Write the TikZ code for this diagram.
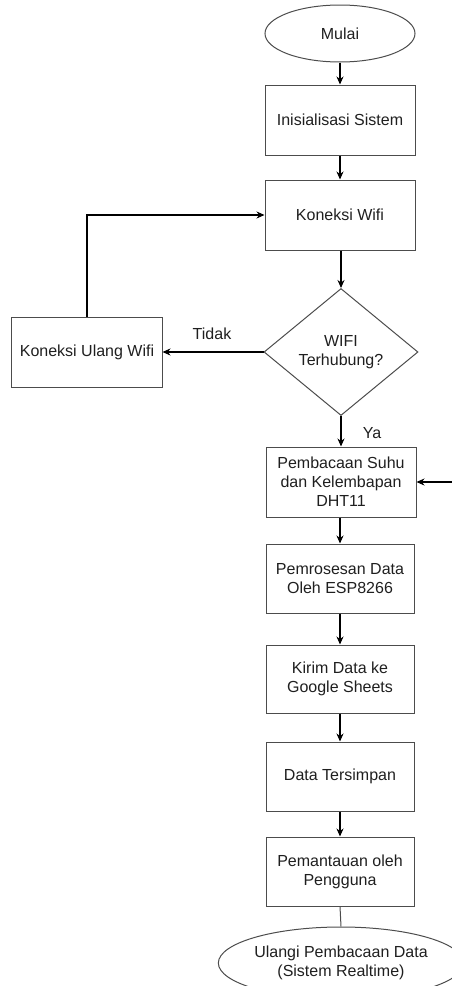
\documentclass[tikz,border=0pt]{standalone}
\usepackage{fontspec}
\setmainfont{Liberation Sans}
\usetikzlibrary{shapes.geometric,arrows.meta}
\begin{document}
\begin{tikzpicture}[x=1bp,y=-1bp,
  every node/.style={font=\fontsize{16bp}{19bp}\selectfont, text=black!88},
  procbox/.style={draw=black!70, line width=1bp, rectangle, align=center, inner sep=0pt},
  term/.style={draw=black!70, line width=1bp, ellipse, align=center, inner sep=0pt},
  decis/.style={draw=black!70, line width=1bp, diamond, align=center, inner sep=0pt},
  conn/.style={draw=black, line width=1.2bp, -{Stealth[length=8bp,width=7bp]}},
  plain/.style={draw=black!70, line width=1bp}
]
\useasboundingbox (0,0) rectangle (452,986);
\clip (0,0) rectangle (452,986);

\node[term, minimum width=150bp, minimum height=57bp] (start) at (340,33.5) {Mulai};
\node[procbox, minimum width=150bp, minimum height=70bp] (init) at (340,120) {Inisialisasi Sistem};
\node[procbox, minimum width=150bp, minimum height=70bp] (wifi) at (340,215) {Koneksi Wifi};
\node[decis, minimum width=154bp, minimum height=127bp] (dec) at (341,352) {WIFI\\Terhubung?};
\node[procbox, minimum width=150bp, minimum height=70bp] (retry) at (87,352) {Koneksi Ulang Wifi};
\node[procbox, minimum width=150bp, minimum height=70bp] (read) at (341,482) {Pembacaan Suhu\\dan Kelembapan\\DHT11};
\node[procbox, minimum width=148bp, minimum height=69bp] (proc) at (340,578.5) {Pemrosesan Data\\Oleh ESP8266};
\node[procbox, minimum width=148bp, minimum height=68bp] (send) at (340,679) {Kirim Data ke\\Google Sheets};
\node[procbox, minimum width=148bp, minimum height=69bp] (store) at (340,776.5) {Data Tersimpan};
\node[procbox, minimum width=148bp, minimum height=69bp] (mon) at (340,871.5) {Pemantauan oleh\\Pengguna};
\node[term, minimum width=184bp, minimum height=72bp] (loop) at (341,963) {Ulangi Pembacaan Data\\(Sistem Realtime)};

\node (tidak) at (212,334) {Tidak};
\node (ya) at (372,433) {Ya};

\coordinate (rin) at (452,482);
\coordinate (rout) at (452,963);

\draw[conn] (start) -- (init);
\draw[conn] (init) -- (wifi);
\draw[conn] (wifi.south -| dec.north) -- (dec.north);
\draw[conn] (dec.west) -- (retry.east);
\draw[conn] (retry.north) |- (wifi.west);
\draw[conn] (dec.south) -- (read.north);
\draw[conn] (rin) -- (read.east);
\draw[conn] (read.south -| proc.north) -- (proc.north);
\draw[conn] (proc) -- (send);
\draw[conn] (send) -- (store);
\draw[conn] (store) -- (mon);
\draw[plain] (mon.south) -- (loop.north);
\draw[plain] (loop.east) -- (rout);
\end{tikzpicture}
\end{document}
